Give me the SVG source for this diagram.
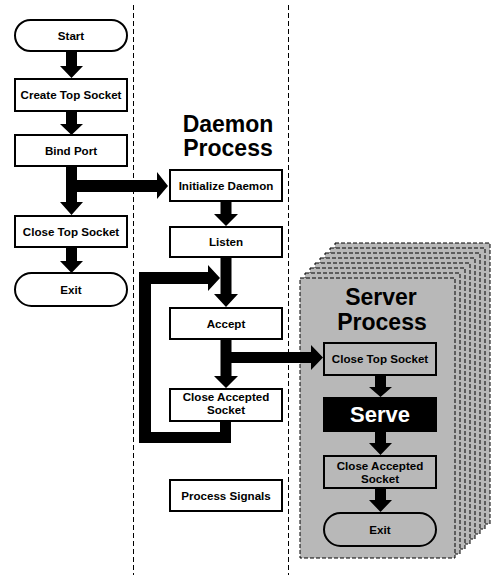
<svg xmlns="http://www.w3.org/2000/svg" width="504" height="583" viewBox="0 0 504 583">
<style>
.bg{fill:#ffffff}
.lane{stroke:#000;stroke-width:1;stroke-dasharray:5,3;fill:none}
.box{fill:#fff;stroke:#000;stroke-width:2}
.gbox{fill:#b8b8b8;stroke:#000;stroke-width:2}
.sheet{fill:#b8b8b8;stroke:#000;stroke-width:1;stroke-dasharray:4,2}
.t{font-family:"Liberation Sans",Arial,sans-serif;font-weight:bold;font-size:11.6px;text-anchor:middle;fill:#000}
.h{font-family:"Liberation Sans",Arial,sans-serif;font-weight:bold;font-size:23px;text-anchor:middle;fill:#000}
.arr{fill:#000}
</style>
<rect class="bg" x="0" y="0" width="504" height="583"/>
<g id="lanes">
<line class="lane" x1="133.5" y1="5" x2="133.5" y2="575"/>
<line class="lane" x1="288.5" y1="5" x2="288.5" y2="575"/>
</g>
<g id="server-stack">
<rect class="sheet" x="335" y="243" width="155" height="281"/>
<rect class="sheet" x="330" y="248" width="155" height="281"/>
<rect class="sheet" x="325" y="253" width="155" height="281"/>
<rect class="sheet" x="320" y="258" width="155" height="281"/>
<rect class="sheet" x="315" y="263" width="155" height="281"/>
<rect class="sheet" x="310" y="268" width="155" height="281"/>
<rect class="sheet" x="305" y="273" width="155" height="281"/>
<rect class="sheet" x="300" y="278" width="155" height="280"/>
</g>
<g id="titles">
<text class="h" x="228" y="132">Daemon</text>
<text class="h" x="228" y="156">Process</text>
<text class="h" x="381" y="305">Server</text>
<text class="h" x="382" y="330">Process</text>
</g>
<g id="connectors">
<polygon class="arr" points="66,51 77,51 77,66 83,66 71.5,78 60,66 66,66"/>
<polygon class="arr" points="66,111 77,111 77,124 83,124 71.5,135 60,124 66,124"/>
<polygon class="arr" points="66,166 77,166 77,180 157,180 157,172 168,186 157,199 157,192 77,192 77,202 83,202 71.5,215 60,202 66,202"/>
<polygon class="arr" points="66,247 77,247 77,261 83,261 71.5,273 60,261 66,261"/>
<polygon class="arr" points="220.5,201 231.5,201 231.5,214 238,214 226,226 214,214 220.5,214"/>
<polygon class="arr" points="220.5,257 231.5,257 231.5,294 238,294 226,307 214,294 220.5,294"/>
<polygon class="arr" points="220.5,339 231.5,339 231.5,352 311,352 311,345 323,357.5 311,370 311,363 231.5,363 231.5,376 238,376 226,388 214,376 220.5,376"/>
<polygon class="arr" points="220,421 231,421 231,443 139,443 139,272 208,272 208,265 220,278 208,291 208,284 151,284 151,432 220,432"/>
<polygon class="arr" points="375,375 386,375 386,387 392,387 380.5,397 369,387 375,387"/>
<polygon class="arr" points="375,432 386,432 386,443 392,443 380.5,455 369,443 375,443"/>
<polygon class="arr" points="375,488 386,488 386,500 392,500 380.5,512 369,500 375,500"/>
</g>
<g id="start"><rect class="box" x="15" y="20" width="112" height="31" rx="15.5" stroke-width="1.5"/><text class="t" x="71" y="40">Start</text></g>
<g id="create-top-socket"><rect class="box" x="15" y="79" width="112" height="32"/><text class="t" x="71" y="99">Create Top Socket</text></g>
<g id="bind-port"><rect class="box" x="15" y="135" width="112" height="31"/><text class="t" x="71" y="155">Bind Port</text></g>
<g id="close-top-socket"><rect class="box" x="15" y="216" width="112" height="31"/><text class="t" x="71" y="236">Close Top Socket</text></g>
<g id="exit"><rect class="box" x="15" y="273" width="112" height="33" rx="16.5" stroke-width="1.5"/><text class="t" x="71" y="294">Exit</text></g>
<g id="initialize-daemon"><rect class="box" x="170" y="170" width="112" height="31"/><text class="t" x="226" y="190">Initialize Daemon</text></g>
<g id="listen"><rect class="box" x="170" y="227" width="112" height="30"/><text class="t" x="226" y="246">Listen</text></g>
<g id="accept"><rect class="box" x="170" y="308" width="112" height="31"/><text class="t" x="226" y="328">Accept</text></g>
<g id="close-accepted-socket"><rect class="box" x="170" y="389" width="112" height="32"/><text class="t" x="226" y="401">Close Accepted</text><text class="t" x="226" y="414">Socket</text></g>
<g id="process-signals"><rect class="box" x="170" y="480" width="112" height="31"/><text class="t" x="226" y="500">Process Signals</text></g>
<g id="server-close-top-socket"><rect class="gbox" x="324" y="343" width="112" height="32"/><text class="t" x="380" y="363">Close Top Socket</text></g>
<g id="serve"><rect x="323" y="397" width="114" height="35" fill="#000"/><text class="h" x="380" y="422" style="fill:#fff;font-size:22px">Serve</text></g>
<g id="server-close-accepted-socket"><rect class="gbox" x="324" y="456" width="112" height="32"/><text class="t" x="380" y="470">Close Accepted</text><text class="t" x="380" y="483">Socket</text></g>
<g id="server-exit"><rect class="gbox" x="324" y="513" width="112" height="33" rx="16.5" stroke-width="1.5"/><text class="t" x="380" y="534">Exit</text></g>
</svg>
